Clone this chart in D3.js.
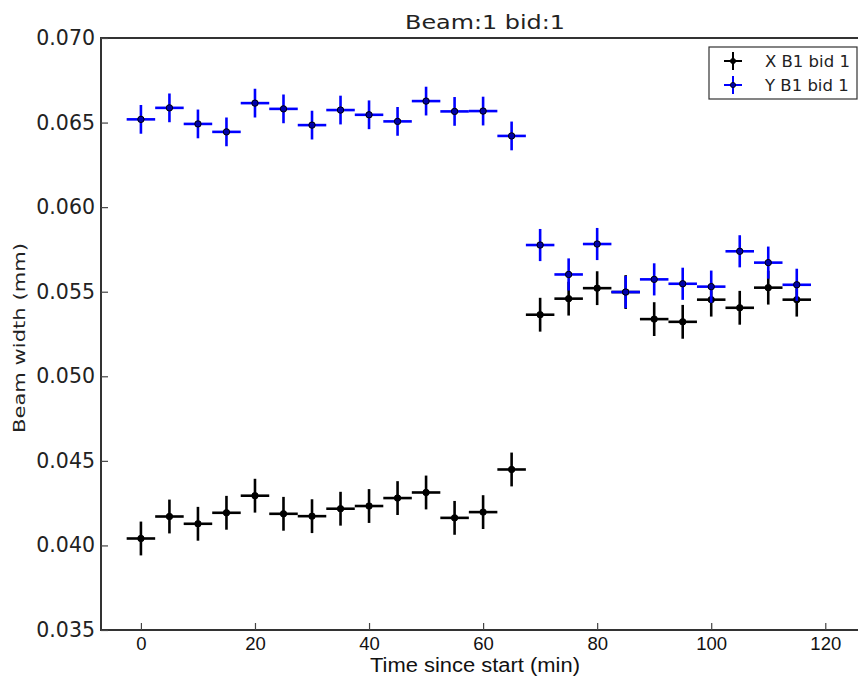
<!DOCTYPE html>
<html>
<head>
<meta charset="utf-8">
<script src="https://cdn.jsdelivr.net/npm/d3@7"></script>
<style>
  body { margin: 0; background: #fff; }
  svg { display: block; }
</style>
</head>
<body>
<div id="chart"></div>
<script>
// data
const times = [0, 5, 10, 15, 20, 25, 30, 35, 40, 45, 50, 55, 60, 65,
  70, 75, 80, 85, 90, 95, 100, 105, 110, 115];
const xWidth = [0.04041, 0.04171, 0.04128, 0.04193, 0.04294, 0.04187, 0.04173, 0.04217, 0.04233, 0.04280,
  0.04313, 0.04163, 0.04197, 0.04449, 0.05364, 0.05459, 0.05521, 0.05498, 0.05338, 0.05322,
  0.05453, 0.05405, 0.05524, 0.05453];
const yWidth = [0.06519, 0.06587, 0.06492, 0.06445, 0.06615, 0.06581, 0.06485, 0.06574, 0.06546, 0.06507,
  0.06627, 0.06566, 0.06568, 0.06421, 0.05776, 0.05602, 0.05782, 0.05498, 0.05573, 0.05547,
  0.05530, 0.05739, 0.05672, 0.05541];
const xErr = [0.00100, 0.00100, 0.00100, 0.00100, 0.00100, 0.00100, 0.00100, 0.00100, 0.00100, 0.00100,
  0.00100, 0.00100, 0.00100, 0.00100, 0.00100, 0.00100, 0.00100, 0.00100, 0.00100, 0.00100,
  0.00100, 0.00100, 0.00100, 0.00100];
const yErr = [0.00085, 0.00085, 0.00085, 0.00085, 0.00085, 0.00085, 0.00085, 0.00085, 0.00085, 0.00085,
  0.00085, 0.00085, 0.00085, 0.00085, 0.00095, 0.00095, 0.00095, 0.00095, 0.00095, 0.00095,
  0.00095, 0.00095, 0.00095, 0.00095];
const timeErr = 2.5;
const xTicks = [0, 20, 40, 60, 80, 100, 120];
const yTicks = [0.035, 0.040, 0.045, 0.050, 0.055, 0.060, 0.065, 0.070];
const seriesNames = ["X B1 bid 1", "Y B1 bid 1"];
const seriesColors = ["#000000", "#0000ff"];

const width = 858, height = 677;
const marginLeft = 101, plotTop = 38, plotBottom = 630;

const svg = d3.select("#chart").append("svg")
  .attr("width", width)
  .attr("height", height);

const x = d3.scaleLinear().domain([-7, 127]).range([marginLeft, marginLeft + 134 * 5.703]);
const y = d3.scaleLinear().domain([0.035, 0.070]).range([plotBottom, plotTop]);

// axes box (right side runs past the window)
svg.append("rect")
  .attr("x", x(-7)).attr("y", y(0.070))
  .attr("width", x(127) - x(-7)).attr("height", y(0.035) - y(0.070))
  .attr("fill", "none").attr("stroke", "#333").attr("stroke-width", 2);

// inward ticks
const yAxis = svg.append("g")
  .attr("transform", `translate(${marginLeft},0)`)
  .call(d3.axisLeft(y).tickValues(yTicks).tickSizeInner(-7).tickSizeOuter(0).tickPadding(6)
    .tickFormat(d3.format(".3f")));
yAxis.select(".domain").remove();
yAxis.selectAll("line").attr("stroke", "#444").attr("stroke-width", 1.2);
yAxis.selectAll("text")
  .attr("font-family", "DejaVu Sans").attr("font-size", 20.5).attr("fill", "#222");

const xAxis = svg.append("g")
  .attr("transform", `translate(0,${plotBottom})`)
  .call(d3.axisBottom(x).tickValues(xTicks).tickSizeInner(-7).tickSizeOuter(0).tickPadding(7));
xAxis.select(".domain").remove();
xAxis.selectAll("line").attr("stroke", "#444").attr("stroke-width", 1.2);
xAxis.selectAll("text")
  .attr("font-family", "Liberation Sans").attr("font-size", 18.5).attr("fill", "#111");

svg.append("text")
  .attr("x", 485).attr("y", 29)
  .attr("text-anchor", "middle")
  .attr("font-family", "DejaVu Sans").attr("font-size", 19).attr("fill", "#222")
  .attr("textLength", 160).attr("lengthAdjust", "spacingAndGlyphs")
  .text("Beam:1 bid:1");

svg.append("text")
  .attr("x", 475).attr("y", 671.5)
  .attr("text-anchor", "middle")
  .attr("font-family", "Liberation Sans").attr("font-size", 19.5).attr("fill", "#111")
  .attr("textLength", 210).attr("lengthAdjust", "spacingAndGlyphs")
  .text("Time since start (min)");

svg.append("text")
  .attr("transform", "translate(25,338) rotate(-90)")
  .attr("text-anchor", "middle")
  .attr("font-family", "DejaVu Sans").attr("font-size", 16.5).attr("fill", "#222")
  .attr("textLength", 190).attr("lengthAdjust", "spacingAndGlyphs")
  .text("Beam width (mm)");

// error bars + markers
const series = [
  { name: seriesNames[0], color: seriesColors[0], vals: xWidth, errs: xErr },
  { name: seriesNames[1], color: seriesColors[1], vals: yWidth, errs: yErr }
];

series.forEach(s => {
  const pts = times.map((t, i) => ({ t: t, v: s.vals[i], e: s.errs[i] }));
  const g = svg.append("g");
  g.selectAll("line.h").data(pts).join("line")
    .attr("x1", d => x(d.t - timeErr)).attr("x2", d => x(d.t + timeErr))
    .attr("y1", d => y(d.v)).attr("y2", d => y(d.v))
    .attr("stroke", s.color).attr("stroke-width", 2.6);
  g.selectAll("line.v").data(pts).join("line")
    .attr("x1", d => x(d.t)).attr("x2", d => x(d.t))
    .attr("y1", d => y(d.v - d.e)).attr("y2", d => y(d.v + d.e))
    .attr("stroke", s.color).attr("stroke-width", 2.6);
  g.selectAll("circle").data(pts).join("circle")
    .attr("cx", d => x(d.t)).attr("cy", d => y(d.v)).attr("r", 3.2)
    .attr("fill", s.color === "#000000" ? "#000" : "#0000aa")
    .attr("stroke", "#000").attr("stroke-width", 1);
});

// legend
const legend = svg.append("g");
legend.append("rect")
  .attr("x", 709).attr("y", 47).attr("width", 148).attr("height", 52)
  .attr("fill", "#fff").attr("stroke", "#333").attr("stroke-width", 1.2);
series.forEach((s, i) => {
  const cy = 61 + i * 24, cx = 733;
  legend.append("line").attr("x1", cx - 9).attr("x2", cx + 9).attr("y1", cy).attr("y2", cy)
    .attr("stroke", s.color).attr("stroke-width", 2);
  legend.append("line").attr("x1", cx).attr("x2", cx).attr("y1", cy - 9).attr("y2", cy + 9)
    .attr("stroke", s.color).attr("stroke-width", 2);
  legend.append("circle").attr("cx", cx).attr("cy", cy).attr("r", 2.6)
    .attr("fill", i === 0 ? "#000" : "#0000aa").attr("stroke", "#000").attr("stroke-width", 0.8);
  legend.append("text")
    .attr("x", 765).attr("y", cy + 6)
    .attr("font-family", "DejaVu Sans").attr("font-size", 16.5).attr("fill", "#222")
    .text(s.name);
});
</script>
</body>
</html>
